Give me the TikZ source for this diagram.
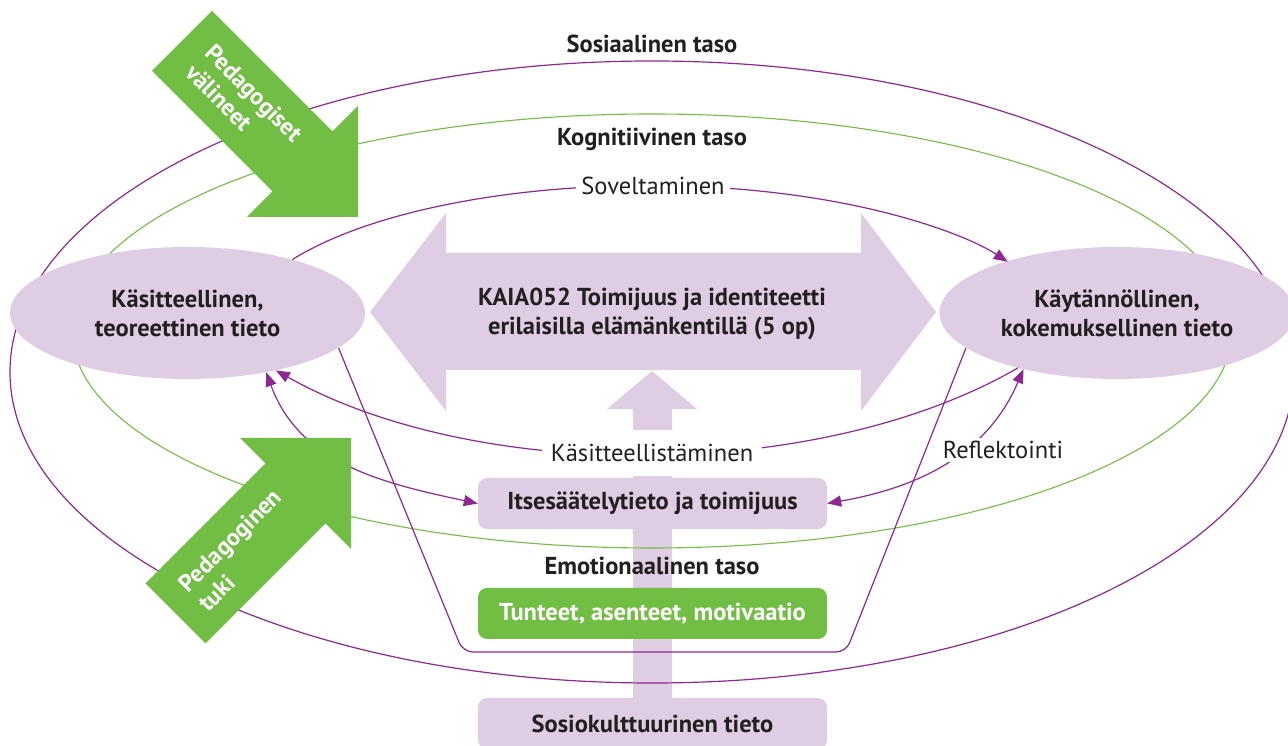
\documentclass[tikz,border=0pt]{standalone}
\usepackage{fontspec}
\setmainfont{PT Sans}
\usetikzlibrary{arrows.meta,shapes.geometric}
\definecolor{purp}{RGB}{142,39,145}
\definecolor{lpurp}{RGB}{223,205,228}
\definecolor{grn}{RGB}{114,190,68}
\definecolor{txt}{RGB}{35,31,32}
\pgfdeclarelayer{bg}
\pgfsetlayers{bg,main}
\begin{document}
\begin{tikzpicture}[x=1pt,y=1pt,
  pline/.style={draw=purp,line width=1.2pt},
  gline/.style={draw=grn,line width=1.1pt},
  arr/.style={pline,-{Triangle[length=14pt,width=11pt]}},
  darr/.style={pline,{Triangle[length=14pt,width=11pt]}-{Triangle[length=14pt,width=11pt]}},
  ell/.style={ellipse,fill=lpurp,minimum width=355pt,minimum height=132pt,inner sep=0pt,align=center,text=txt,font=\bfseries\fontsize{24.5}{29}\selectfont},
  boxn/.style={rectangle,rounded corners=9pt,minimum width=349pt,minimum height=51pt,inner sep=0pt,font=\bfseries\fontsize{24.5}{28}\selectfont},
  lvl/.style={text=txt,font=\bfseries\fontsize{24.5}{28}\selectfont},
  lab/.style={text=txt,fill=white,font=\fontsize{24.5}{28}\selectfont},
  gtext/.style={text=white,align=left,font=\bfseries\fontsize{24}{28}\selectfont}
]
\clip (0,0) rectangle (1288,746);
% ellipse nodes
\node[ell] (kt) at (187.5,433) {Käsitteellinen,\\teoreettinen tieto};
\node[ell] (kp) at (1117,433) {Käytännöllinen,\\kokemuksellinen tieto};
\begin{pgfonlayer}{bg}
  % up arrow (behind everything)
  \path[fill=lpurp] (652,375) -- (697,337) -- (672,337) -- (672,48) -- (633,48) -- (633,337) -- (607,337) -- cycle;
  % level ellipses
  \draw[pline] (652,374) ellipse [x radius=642, y radius=311];
  \draw[gline] (652,415) ellipse [x radius=580, y radius=217];
  % trapezoid line
  \draw[pline,rounded corners=10pt] (kt.-13) -- (463,94) -- (846,94) -- (kp.193);
\end{pgfonlayer}
% double arrow
\path[fill=lpurp] (370,434) -- (446,533) -- (446,493) -- (861,493) -- (861,533) -- (936,434) -- (861,335) -- (861,376) -- (446,376) -- (446,335) -- cycle;
\node[align=center,text=txt,font=\bfseries\fontsize{24.5}{29}\selectfont] (kaia) at (652,432) {KAIA052 Toimijuus ja identiteetti\\erilaisilla elämänkentillä (5 op)};
% labels of levels
\node[lvl] (sos) at (652,702) {Sosiaalinen taso};
\node[lvl] (kog) at (652,607) {Kognitiivinen taso};
\node[lvl] (emo) at (652,180) {Emotionaalinen taso};
% Soveltaminen arc
\draw[arr] (kt.27) arc[start angle=150, end angle=29, x radius=411pt, y radius=148pt];
\node[lab,inner xsep=5pt] (sov) at (653,560) {Soveltaminen};
% Kasitteellistaminen
\draw[arr] (kp.209) .. controls (819,263) and (476,263) .. (kt.-33);
\node[lab,inner xsep=9pt,minimum height=46pt] (kas) at (652,293) {Käsitteellistäminen};
% boxes
\node[boxn,fill=lpurp,text=txt] (its) at (652.5,242.5) {Itsesäätelytieto ja toimijuus};
\node[boxn,fill=grn,text=white] (tun) at (652.5,132.5) {Tunteet, asenteet, motivaatio};
\node[boxn,fill=lpurp,text=txt] (soc) at (652.5,22.5) {Sosiokulttuurinen tieto};
% double arrows
\draw[darr] (its.west) to[out=168,in=-70] (kt.-37);
\draw[darr] (its.east) to[out=10,in=-113] (kp.211);
\node[lab,inner sep=3pt] (ref) at (1003,296) {Reflektointi};
% green arrows
\path[fill=grn] (212,735) -- (332.5,614.5) -- (358,640) -- (358,529) -- (247,529) -- (272.5,554.5) -- (152,675) -- cycle;
\node[gtext,rotate=-45] (pv) at (244,643) {Pedagogiset\\välineet};
\path[fill=grn] (145.5,162.5) -- (265.5,282.5) -- (240,308) -- (351,308) -- (351,197) -- (325.5,222.5) -- (205.5,102.5) -- cycle;
\node[gtext,rotate=45] (pt) at (240,196) {Pedagoginen\\tuki};
\end{tikzpicture}
\end{document}
